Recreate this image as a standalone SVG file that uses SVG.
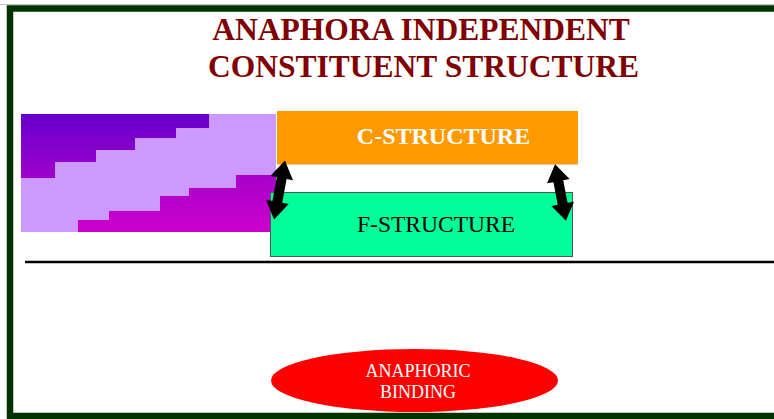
<svg xmlns="http://www.w3.org/2000/svg" width="774" height="419" viewBox="0 0 774 419">
<style>
.title{font-family:"Liberation Serif","Times New Roman",serif;font-weight:bold;font-size:31.5px;fill:#800000;text-anchor:middle}
.lbl{font-family:"Liberation Serif","Times New Roman",serif;text-anchor:middle}
.arrow{fill:#000000}
</style>
<defs>
<linearGradient id="gDark" gradientUnits="userSpaceOnUse" x1="0" y1="114" x2="0" y2="178">
<stop offset="0" stop-color="#6600CC"/>
<stop offset="1" stop-color="#A000CC"/>
</linearGradient>
<linearGradient id="gMag" gradientUnits="userSpaceOnUse" x1="0" y1="175" x2="0" y2="232">
<stop offset="0" stop-color="#A800CC"/>
<stop offset="1" stop-color="#CC00CC"/>
</linearGradient>
<polygon id="dbl" points="0,-30 11.5,-12 5,-12 5,12 11.5,12 0,30 -11.5,12 -5,12 -5,-12 -11.5,-12"/>
</defs>
<rect width="774" height="419" fill="#ffffff"/>
<line x1="0" y1="4.5" x2="774" y2="4.5" stroke="#c0c0c0" stroke-width="1"/>
<rect x="10" y="8.5" width="800" height="407.5" fill="none" stroke="#003300" stroke-width="6.5"/>
<g id="title">
<text class="title" x="421" y="40">ANAPHORA INDEPENDENT</text>
<text class="title" x="423.5" y="77">CONSTITUENT STRUCTURE</text>
</g>
<g id="decoration">
<rect x="21" y="114" width="255" height="118" fill="#CC99FF"/>
<polygon fill="url(#gDark)" points="21,114 209,114 209,128 176,128 176,138 135,138 135,150 96,150 96,162 55,162 55,178 21,178"/>
<polygon fill="url(#gMag)" points="236,175 276,175 276,232 78,232 78,220 109,220 109,211 160,211 160,196 189,196 189,188 236,188"/>
</g>
<g id="c-structure">
<rect x="277" y="111" width="301" height="53" fill="#FF9900"/>
<line x1="277" y1="164.5" x2="578" y2="164.5" stroke="#FFCC99" stroke-width="1.2"/>
<text class="lbl" x="443.5" y="144" font-size="24" font-weight="bold" fill="#ffffff">C-STRUCTURE</text>
</g>
<g id="f-structure">
<rect x="270.5" y="192.5" width="302" height="64" fill="#00FF99" stroke="#555555" stroke-width="1"/>
<text class="lbl" x="436" y="232" font-size="23.5" fill="#000000">F-STRUCTURE</text>
</g>
<g id="connectors">
<use href="#dbl" class="arrow" transform="translate(279.5,190) rotate(10.4)"/>
<use href="#dbl" class="arrow" transform="translate(560.5,192.5) rotate(-10.9) scale(1,0.96)"/>
<line x1="25" y1="262" x2="774" y2="262" stroke="#000000" stroke-width="2.5"/>
</g>
<g id="anaphoric-binding">
<ellipse cx="414.5" cy="380.5" rx="143.5" ry="31.5" fill="#FF0000"/>
<text class="lbl" x="418" y="377" font-size="18" fill="#ffffff">ANAPHORIC</text>
<text class="lbl" x="418" y="398" font-size="18" fill="#ffffff">BINDING</text>
</g>
</svg>
